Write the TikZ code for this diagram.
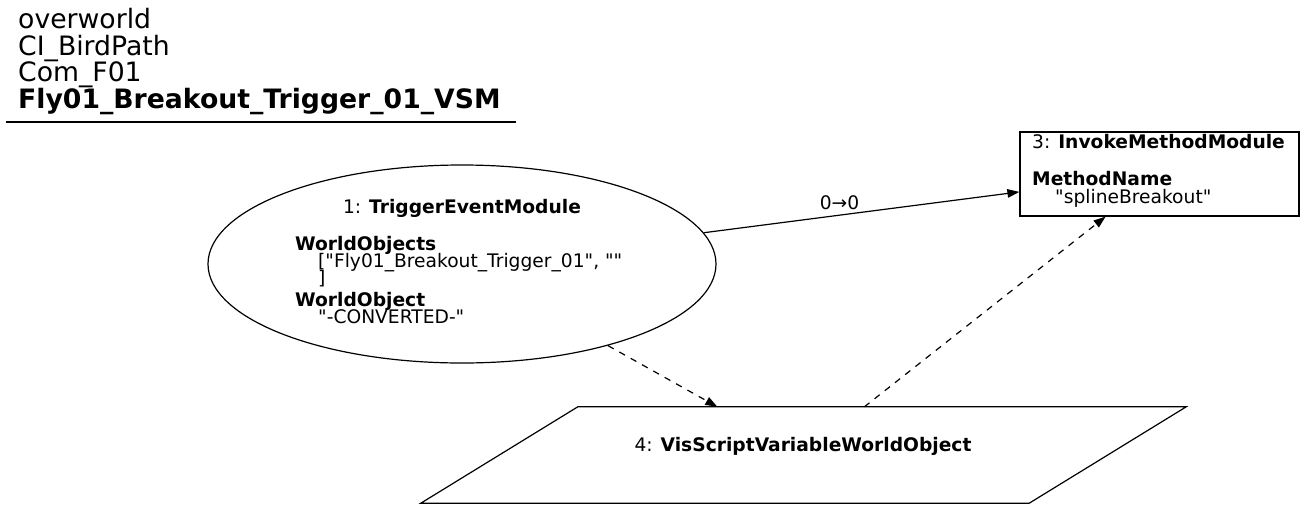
\documentclass[tikz,border=0pt]{standalone}
\usepackage{fontspec}
\setmainfont{DejaVu Sans}[Ligatures=TeXOff]
\usetikzlibrary{shapes.geometric,arrows.meta}
\newcommand{\modfont}{\fontsize{18.67}{17.3}\selectfont\lineskiplimit=-50pt\relax}
\newcommand{\hdrfont}{\fontsize{26.67}{26.4}\selectfont\lineskiplimit=-50pt\relax}

\begin{document}
\begin{tikzpicture}[x=1pt,y=-1pt]
    \tikzstyle{every node} = [font=\modfont, inner sep=0pt]
    \tikzstyle{modell} = [ellipse, draw, line width=1.2pt, minimum width=508pt, minimum height=198pt]
    \tikzstyle{modbox} = [rectangle, draw, line width=1.2pt, minimum width=279pt, minimum height=84pt]
    \tikzstyle{modvar} = [rectangle, minimum width=608pt, minimum height=96pt]
    \tikzstyle{txt} = [anchor=base west, align=left]
    \tikzstyle{flow} = [line width=1.2pt, -{Triangle[length=12pt,width=8.5pt]}]
    \tikzstyle{varflow} = [flow, dash pattern=on 6.5pt off 6.5pt]
    \useasboundingbox (0,0) rectangle (1305,509);
    % header
    \node[txt, font=\hdrfont] (hdr) at (18,108) {overworld\\CI\_BirdPath\\Com\_F01\\\textbf{Fly01\_Breakout\_Trigger\_01\_VSM}};
    \draw[line width=1.4pt] (6,122) -- (516,122);
    % modules
    \node[modell] (m1) at (462,264) {};
    \node[anchor=base] (m1head) at (462,213) {1: \textbf{TriggerEventModule}};
    \node[txt] (m1body) at (295,323.5) {\textbf{WorldObjects}\\\hspace*{23pt}["Fly01\_Breakout\_Trigger\_01", ""\\\hspace*{23pt}]\\[4pt]\textbf{WorldObject}\\\hspace*{23pt}"-CONVERTED-"};
    \node[modbox] (m3) at (1159.5,174) {};
    \node[txt] (m3body) at (1032,203) {3: \textbf{InvokeMethodModule}\\[19.7pt]\textbf{MethodName}\\\hspace*{23pt}"splineBreakout"};
    \node[modvar] (m4) at (803.5,455) {};
    \draw[line width=1.2pt] ([xshift=78.5pt]m4.north west) -- ([xshift=78.5pt]m4.north east)
        -- ([xshift=-78.5pt]m4.south east) -- ([xshift=-78.5pt]m4.south west) -- cycle;
    \node[anchor=base] (m4head) at (803,451) {4: \textbf{VisScriptVariableWorldObject}};
    % links
    \draw[flow] (m1) -- node[above=5pt, pos=0.43] (l13) {0→0} (m3);
    \draw[varflow] (m1) -- (m4);
    \draw[varflow] (m4) -- (m3);
\end{tikzpicture}
\end{document}
